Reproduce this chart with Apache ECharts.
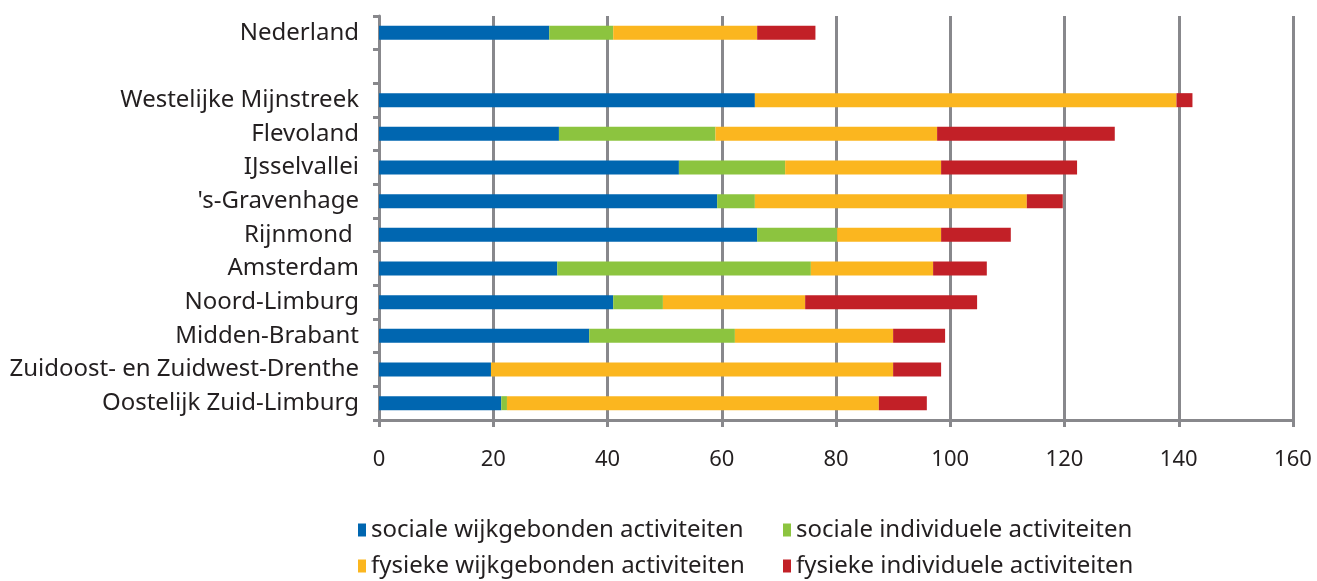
<!DOCTYPE html>
<html><head><meta charset="utf-8">
<script src="https://cdn.jsdelivr.net/npm/echarts@6/dist/echarts.min.js"></script>
<style>html,body{margin:0;padding:0;background:#fff}#c{width:1317px;height:581px}</style>
</head><body><div id="c"></div>
<script>
const categories = ['Nederland','','Westelijke Mijnstreek','Flevoland','IJsselvallei',"'s-Gravenhage",'Rijnmond ','Amsterdam','Noord-Limburg','Midden-Brabant','Zuidoost- en Zuidwest-Drenthe','Oostelijk Zuid-Limburg'];
const socialeWijk   = [29.8, null, 65.8, 31.5, 52.5, 59.2, 66.2, 31.2, 41.0, 36.8, 19.6, 21.4];
const socialeInd    = [11.2, null, 0, 27.4, 18.6, 6.6, 14.0, 44.4, 8.7, 25.5, 0, 1.0];
const fysiekeWijk   = [25.2, null, 73.8, 38.8, 27.3, 47.6, 18.2, 21.4, 24.9, 27.7, 70.4, 65.1];
const fysiekeInd    = [10.2, null, 2.8, 31.1, 23.8, 6.3, 12.2, 9.4, 30.1, 9.1, 8.4, 8.4];
const xTicks = {min: 0, max: 160, interval: 20};
const seriesNames = ['sociale wijkgebonden activiteiten','sociale individuele activiteiten','fysieke wijkgebonden activiteiten','fysieke individuele activiteiten'];
const colors = ['#0066b0','#8cc43f','#fbb61f','#c22027'];
const font = 'Noto Sans';
const gray = '#88888c';
const txt = '#231f20';
const chart = echarts.init(document.getElementById('c'));
const mk = (name, data, color) => ({
  name, type: 'bar', stack: 'total', data, barWidth: 14,
  itemStyle: {color}, emphasis: {disabled: true}
});
const legendBase = () => ({orient: 'vertical', top: 518, height: 100, width: 420, padding: 0, itemGap: 12,
  itemWidth: 8, itemHeight: 13, icon: 'rect',
  textStyle: {fontFamily: font, fontSize: 24, lineHeight: 24, color: txt}});
chart.setOption({
  animation: false,
  color: colors,
  grid: {left: 379, right: 24, top: 16, bottom: 161, containLabel: false},
  xAxis: {
    type: 'value', min: xTicks.min, max: xTicks.max, interval: xTicks.interval,
    axisLine: {show: true, lineStyle: {color: gray, width: 3}},
    axisTick: {show: true, length: 7, lineStyle: {color: gray, width: 3}},
    splitLine: {show: true, lineStyle: {color: gray, width: 3}},
    axisLabel: {margin: 29, fontFamily: font, fontSize: 22, color: txt}
  },
  yAxis: {
    type: 'category', data: categories, inverse: true,
    axisLine: {show: true, lineStyle: {color: gray, width: 3}},
    axisTick: {show: true, length: 6, lineStyle: {color: gray, width: 3}},
    axisLabel: {margin: 20, fontFamily: font, fontSize: 24, color: txt}
  },
  legend: [
    Object.assign(legendBase(), {data: [seriesNames[0], seriesNames[2]], left: 358}),
    Object.assign(legendBase(), {data: [seriesNames[1], seriesNames[3]], left: 783})
  ],
  series: [
    mk(seriesNames[0], socialeWijk, colors[0]),
    mk(seriesNames[1], socialeInd, colors[1]),
    mk(seriesNames[2], fysiekeWijk, colors[2]),
    mk(seriesNames[3], fysiekeInd, colors[3])
  ]
});
</script></body></html>
